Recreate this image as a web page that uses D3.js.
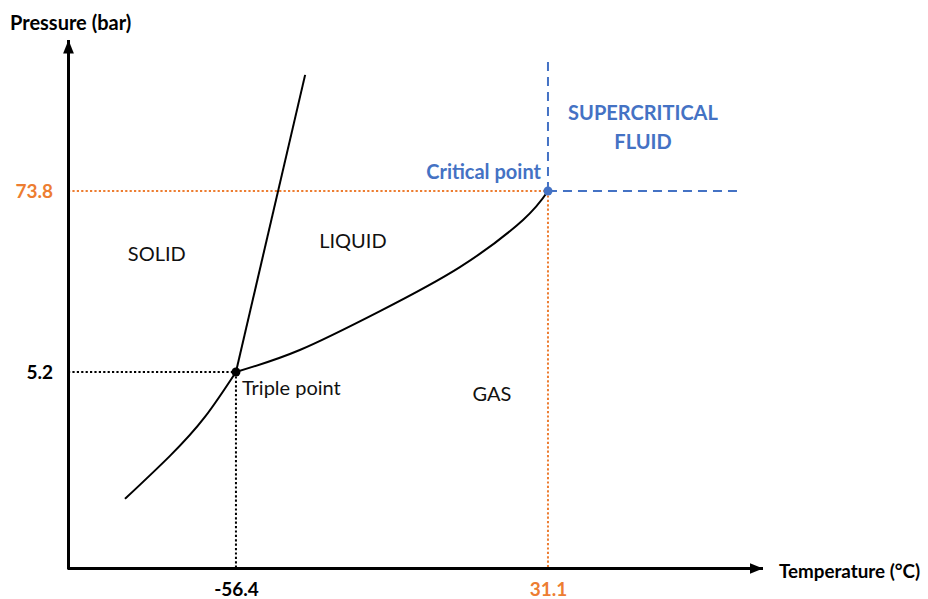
<!DOCTYPE html>
<html><head><meta charset="utf-8">
<script src="https://cdn.jsdelivr.net/npm/d3@7"></script>
<style>
body{margin:0;background:#fff;}
text{font-family:Lato,"Open Sans",sans-serif;}
</style></head>
<body><svg id="c" width="928" height="599"></svg>
<script>
// ---- data (temperature °C, pressure bar) ----
const sublimationT = [-87.5, -74.9, -65.1, -56.4];
const sublimationP = [0.81, 1.52, 2.69, 5.2];
const meltingT = [-56.4, -37.0];
const meltingP = [5.2, 405];
const vaporT = [-56.4, -38.5, -16.0, 6.4, 24.1, 31.1];
const vaporP = [5.2, 7.18, 12.7, 24.2, 48.3, 73.8];
const triplePoint = [-56.4, 5.2];
const criticalPoint = [31.1, 73.8];
const xTicks = [-56.4, 31.1];
const yTicks = [5.2, 73.8];
const tempDomain = [-103.5, 91.4];
const presDomain = [0.294, 675];
const scfTopP = 526;
const scfRightT = 84.4;
const regionLabels = ["SOLID", "LIQUID", "GAS"];
const regionT = [-78.6, -23.6, 15.4];
const regionP = [29.8, 36.0, 3.82];

const BLUE = "#4472C4", ORANGE = "#ED7D31";
const svg = d3.select("#c");
const x = d3.scaleLinear().domain(tempDomain).range([68, 763]);
const y = d3.scaleLog().domain(presDomain).range([568, 40]);

const defs = svg.append("defs");
defs.append("marker").attr("id","arr").attr("viewBox","0 0 10 10").attr("refX",10).attr("refY",5)
  .attr("markerWidth",4.5).attr("markerHeight",4.5).attr("markerUnits","strokeWidth").attr("orient","auto")
  .append("path").attr("d","M0,1L10,5L0,9Z").attr("fill","#000");

// guide lines
const dot = "2.2,2.2";
const guide = (x1,y1,x2,y2,c,da,w)=>svg.append("line").attr("x1",x1).attr("y1",y1).attr("x2",x2).attr("y2",y2)
  .attr("stroke",c).attr("stroke-width",w).attr("stroke-dasharray",da);
guide(x(tempDomain[0]), y(yTicks[1]), x(criticalPoint[0]), y(yTicks[1]), ORANGE, dot, 2);
guide(x(xTicks[1]), y(criticalPoint[1]), x(xTicks[1]), y(presDomain[0]), ORANGE, dot, 2);
guide(x(tempDomain[0]), y(yTicks[0]), x(triplePoint[0]), y(yTicks[0]), "#000", dot, 2);
guide(x(xTicks[0]), y(triplePoint[1]), x(xTicks[0]), y(presDomain[0]), "#000", dot, 2);
guide(x(criticalPoint[0]), y(criticalPoint[1]), x(criticalPoint[0]), y(scfTopP), BLUE, "9,6", 2);
guide(x(criticalPoint[0]), y(criticalPoint[1]), x(scfRightT), y(criticalPoint[1]), BLUE, "9,6", 2);

// axes
const fmt = d => d.toFixed(1);
const xAxis = d3.axisBottom(x).tickValues(xTicks).tickSize(0).tickPadding(15).tickSizeOuter(0).tickFormat(fmt);
const gx = svg.append("g").attr("transform",`translate(0,${y(presDomain[0])})`).call(xAxis);
const yAxis = d3.axisLeft(y).tickValues(yTicks).tickSize(0).tickPadding(15).tickSizeOuter(0).tickFormat(fmt);
const gy = svg.append("g").attr("transform",`translate(${x(tempDomain[0])},0)`).call(yAxis);
[gx,gy].forEach(g=>{
  g.select(".domain").attr("stroke","#000").attr("stroke-width",3).attr("marker-end","url(#arr)");
  g.selectAll(".tick text").attr("font-size",19).attr("font-weight","bold").attr("font-family","Lato, sans-serif")
    .attr("fill",(d,i)=>i===1?ORANGE:"#000");
});
gy.select(".domain").attr("d",`M0.5,${y(presDomain[0])+1.5}V${y(presDomain[1])}`);
gx.select(".domain").attr("d",`M${x(tempDomain[0])},0.5H${x(tempDomain[1])}`);

// curves
const line = d3.line().x(d=>x(d[0])).y(d=>y(d[1])).curve(d3.curveNatural);
const zip = (a,b)=>a.map((v,i)=>[v,b[i]]);
svg.append("path").datum(zip(sublimationT,sublimationP)).attr("d",line).attr("fill","none").attr("stroke","#000").attr("stroke-width",2);
svg.append("path").datum(zip(meltingT,meltingP)).attr("d",d3.line().x(d=>x(d[0])).y(d=>y(d[1]))).attr("fill","none").attr("stroke","#000").attr("stroke-width",2);
svg.append("path").datum(zip(vaporT,vaporP)).attr("d",line).attr("fill","none").attr("stroke","#000").attr("stroke-width",2);

svg.append("circle").attr("cx",x(triplePoint[0])).attr("cy",y(triplePoint[1])).attr("r",4.5).attr("fill","#000");
svg.append("circle").attr("cx",x(criticalPoint[0])).attr("cy",y(criticalPoint[1])).attr("r",4.5).attr("fill",BLUE);

// labels
const T = (s,xx,yy,o)=>{const t=svg.append("text").attr("x",xx).attr("y",yy).text(s)
  .attr("font-size",o.size||20).attr("font-weight",o.bold?"bold":"normal").attr("fill",o.fill||"#000")
  .attr("text-anchor",o.anchor||"start").attr("dominant-baseline","central"); return t;};
regionLabels.forEach((s,i)=>T(s, x(regionT[i]), y(regionP[i]), {size:20, anchor:"middle", fill:"#111"}));
T("Triple point", x(triplePoint[0])+6, y(triplePoint[1])+15, {size:20, fill:"#111"});
T("Critical point", x(criticalPoint[0])-7, y(criticalPoint[1])-20, {size:20, bold:true, fill:BLUE, anchor:"end"});
T("SUPERCRITICAL", 643, 112, {size:20, bold:true, fill:BLUE, anchor:"middle"});
T("FLUID", 643, 141, {size:20, bold:true, fill:BLUE, anchor:"middle"});
T("Pressure (bar)", 10, 22, {size:20, bold:true});
T("Temperature (°C)", 779, 570, {size:18.8, bold:true});
</script></body></html>
